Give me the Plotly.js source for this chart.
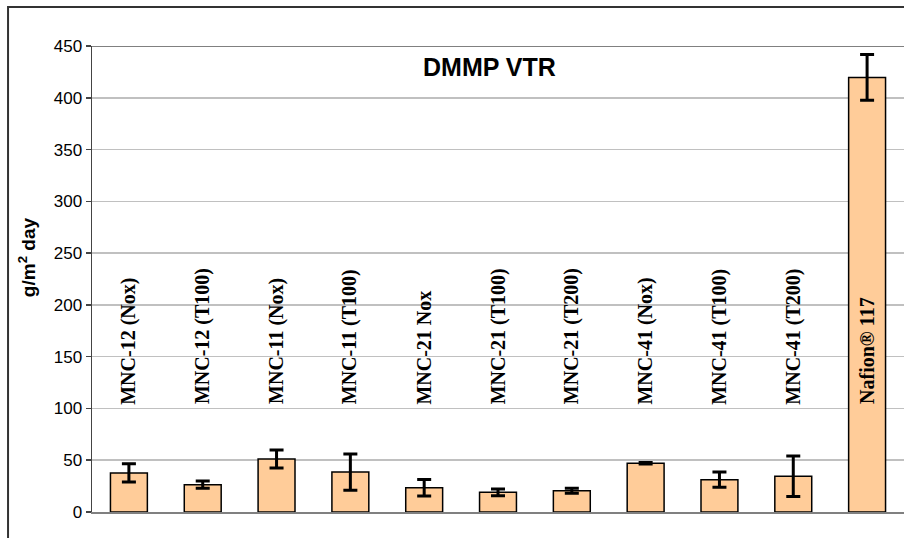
<!DOCTYPE html>
<html>
<head>
<meta charset="utf-8">
<script src="https://cdn.plot.ly/plotly-3.0.1.min.js"></script>
<style>
html,body{margin:0;padding:0;background:#fff;}
#chart{width:904px;height:538px;}
</style>
</head>
<body>
<div id="chart"></div>
<script>
var categories = ["MNC-12 (Nox)","MNC-12 (T100)","MNC-11 (Nox)","MNC-11 (T100)","MNC-21 Nox","MNC-21 (T100)","MNC-21 (T200)","MNC-41 (Nox)","MNC-41 (T100)","MNC-41 (T200)","Nafion® 117"];
var vtr = [37.7, 26.4, 51.2, 38.6, 23.5, 19, 20.6, 47, 31.2, 34.5, 419.7];
var errs = [8.8, 3.5, 8.7, 17.5, 8, 3.2, 2.4, 0.7, 7.4, 19.6, 22.2];
var labelY = 102;
var yTicks = [0,50,100,150,200,250,300,350,400,450];
var chartTitle = "DMMP VTR";
var yTitle = "g/m<sup>2</sup> day";

var trace = {
  type: "bar",
  x: categories,
  y: vtr,
  marker: {color: "#FFCC99", line: {color: "#000000", width: 1.5}},
  error_y: {type: "data", array: errs, visible: true, color: "#000000", thickness: 3, width: 7},
  hoverinfo: "none"
};

var annotations = categories.map(function(c){
  return {
    x: c, y: labelY, xref: "x", yref: "y",
    text: "<b>" + c + "</b>",
    textangle: -90, showarrow: false,
    xanchor: "center", yanchor: "bottom",
    font: {family: "Liberation Serif, Times New Roman, serif", size: 20, color: "#000"}
  };
});
annotations.push({
  xref: "paper", yref: "paper", x: 0.4898, y: 0.954,
  text: "<b>" + chartTitle + "</b>", showarrow: false,
  xanchor: "center", yanchor: "middle",
  font: {family: "Liberation Sans, Arial, sans-serif", size: 25, color: "#000"}
});
annotations.push({
  xref: "paper", yref: "paper", x: -0.08, y: 0.547,
  text: "<b>" + yTitle + "</b>", showarrow: false, textangle: -90,
  xanchor: "center", yanchor: "middle",
  font: {family: "Liberation Sans, Arial, sans-serif", size: 19, color: "#000"}
});

var layout = {
  width: 904, height: 538,
  margin: {l: 92, r: 0, t: 46, b: 26},
  paper_bgcolor: "#ffffff", plot_bgcolor: "#ffffff",
  showlegend: false,
  bargap: 0.5,
  xaxis: {
    type: "category", showticklabels: false, showgrid: false,
    showline: true, linecolor: "#808080", linewidth: 2, ticks: "", zeroline: false
  },
  yaxis: {
    range: [0, 450], tickvals: yTicks, ticktext: yTicks.map(String),
    showgrid: true, gridcolor: "#c0c0c0", gridwidth: 1.5,
    showline: true, linecolor: "#444444", linewidth: 1.5,
    ticks: "outside", ticklen: 5, tickcolor: "#444444", tickwidth: 1.5,
    zeroline: false,
    tickfont: {family: "Liberation Sans, Arial, sans-serif", size: 17, color: "#000"}
  },
  shapes: [
    {type: "line", xref: "paper", yref: "y", x0: 0, x1: 1, y0: 450, y1: 450,
     line: {color: "#808080", width: 2}},
    {type: "rect", xref: "paper", yref: "paper", x0: -0.1034, x1: 1.05, y0: -0.2, y1: 1.0837,
     line: {color: "#333333", width: 2}, fillcolor: "rgba(0,0,0,0)", layer: "below"}
  ],
  annotations: annotations
};

Plotly.newPlot("chart", [trace], layout, {displayModeBar: false, staticPlot: true});
</script>
</body>
</html>
